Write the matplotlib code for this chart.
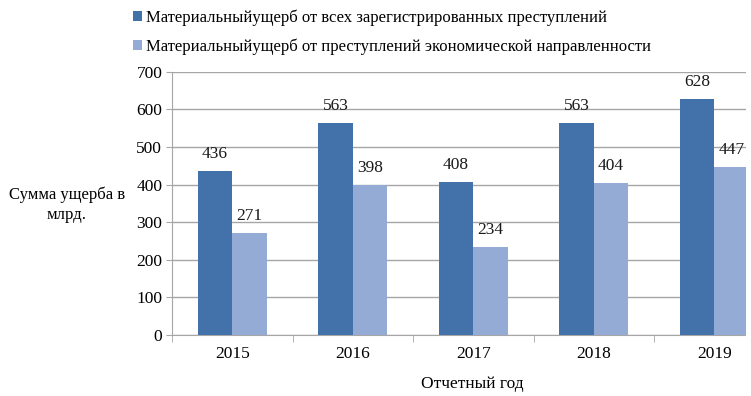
import matplotlib
matplotlib.use("Agg")
import matplotlib.pyplot as plt
from matplotlib.patches import Rectangle
import numpy as np

plt.rcParams['font.family'] = ['Liberation Serif', 'DejaVu Serif']

years = ['2015', '2016', '2017', '2018', '2019']
total_damage = [436, 563, 408, 563, 628]
economic_damage = [271, 398, 234, 404, 447]
series_names = ['Материальныйущерб от всех зарегистрированных преступлений',
                'Материальныйущерб от преступлений экономической направленности']
y_ticks = [0, 100, 200, 300, 400, 500, 600, 700]

c_dark = '#4371AA'
c_light = '#94ABD5'
grid_c = '#A6A6A6'

fig = plt.figure(figsize=(7.51, 3.96), dpi=100)
ax = fig.add_axes([172/751, 1-335/396, 602.5/751, (335-71.7)/396])

x = np.arange(len(years))
w = 0.287
b1 = ax.bar(x - w/2, total_damage, w, color=c_dark, zorder=3, label=series_names[0])
b2 = ax.bar(x + w/2, economic_damage, w, color=c_light, zorder=3, label=series_names[1])

for bars, vals in ((b1, total_damage), (b2, economic_damage)):
    for r, v in zip(bars, vals):
        ax.annotate(str(v), (r.get_x() + r.get_width()/2, v), xytext=(0, 6.5),
                    textcoords='offset points', ha='center', va='bottom',
                    fontsize=12.5, color='#1a1a1a', zorder=4)

ax.set_xlim(-0.5, len(years) - 0.5)
ax.set_ylim(0, 700)
ax.set_yticks(y_ticks)
ax.yaxis.grid(True, color=grid_c, linewidth=1, zorder=0)
ax.tick_params(axis='y', length=4, color=grid_c, labelsize=12.5, pad=3)
ax.set_xticks(x)
ax.set_xticklabels(years, fontsize=12.5)
ax.tick_params(axis='x', length=0, pad=8)
ax.set_xticks(np.arange(-0.5, len(years)), minor=True)
ax.tick_params(axis='x', which='minor', length=5, color=grid_c)

for s in ('top', 'right'):
    ax.spines[s].set_visible(False)
for s in ('left', 'bottom'):
    ax.spines[s].set_color(grid_c)

ax.set_xlabel('Отчетный год', fontsize=12.5)
ax.xaxis.set_label_coords((472-172)/602.5, -0.155)
fig.text(67/751, 1-205/396, 'Сумма ущерба в\nмлрд.', ha='center', va='center',
         fontsize=12, linespacing=1.3)

fig.legend(handles=[b1, b2], loc='upper left', bbox_to_anchor=(121/751, 1+2/396),
           frameon=False, fontsize=12, handlelength=0.55, handleheight=0.55,
           handletextpad=0.25, labelspacing=0.75, borderpad=0.2)

# white margin at right edge (chart cropped)
fig.patches.append(Rectangle((746/751, 0), 5/751, 1, transform=fig.transFigure,
                             facecolor='white', edgecolor='none', zorder=10))

fig.savefig('out.png', dpi=100)
